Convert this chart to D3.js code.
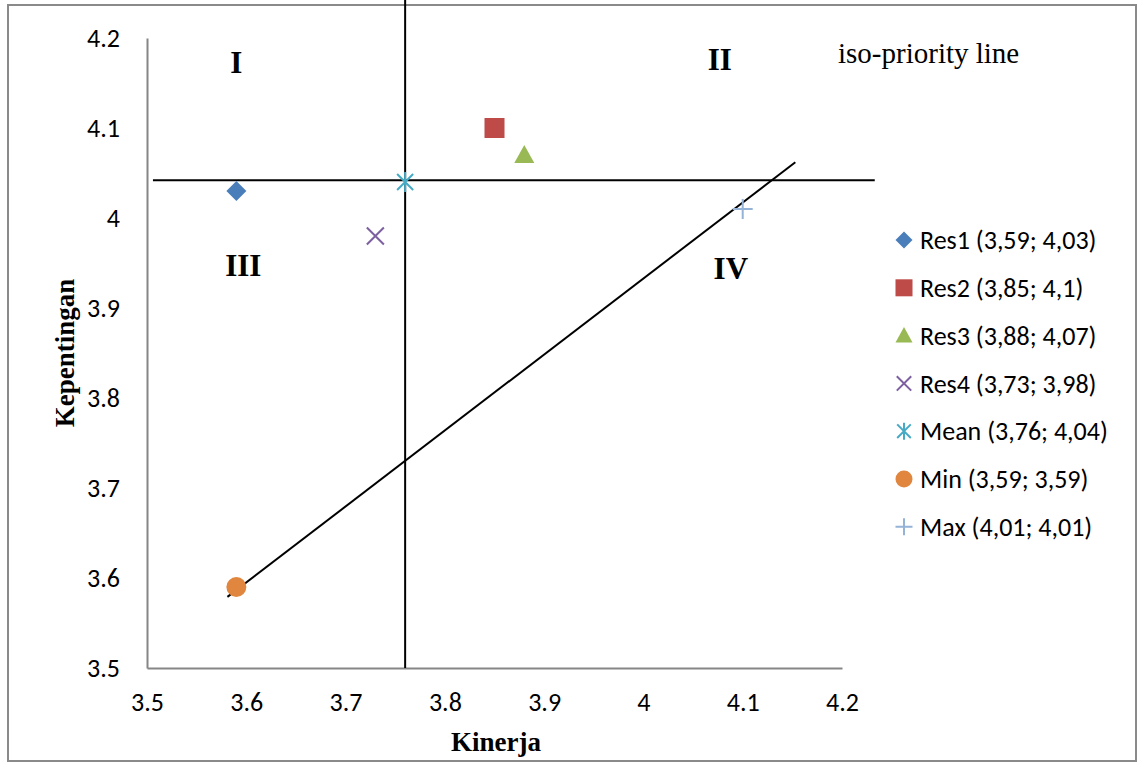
<!DOCTYPE html>
<html>
<head>
<meta charset="utf-8">
<script src="https://cdn.jsdelivr.net/npm/d3@7"></script>
<style>
  html, body { margin: 0; padding: 0; background: #fff; }
  svg { display: block; }
</style>
</head>
<body>
<svg id="chart" width="1138" height="763"></svg>
<script>
// data
const names = ["Res1", "Res2", "Res3", "Res4", "Mean", "Min", "Max"];
const kinerja = [3.59, 3.85, 3.88, 3.73, 3.76, 3.59, 4.1];
const kepentingan = [4.03, 4.1, 4.07, 3.98, 4.04, 3.59, 4.01];
const legendLabels = [
  "Res1 (3,59; 4,03)", "Res2 (3,85; 4,1)", "Res3 (3,88; 4,07)", "Res4 (3,73; 3,98)",
  "Mean (3,76; 4,04)", "Min (3,59; 3,59)", "Max (4,01; 4,01)"
];
const shapes = ["diamond", "square", "triangle", "x", "star", "circle", "plus"];
const colors = ["#4A7EBB", "#BE4B48", "#98B954", "#7D60A0", "#46AAC5", "#E0863E", "#95B3D7"];

const xTicks = [3.5, 3.6, 3.7, 3.8, 3.9, 4, 4.1, 4.2];
const yTicks = [3.5, 3.6, 3.7, 3.8, 3.9, 4, 4.1, 4.2];

// quadrant lines (data coords)
const hLine = [[3.506, 4.042], [4.233, 4.042]];
const vLine = [[3.76, 3.5], [3.76, 4.245]];
const isoLine = [[3.581, 3.579], [4.153, 4.062]];

const quadrants = [
  { label: "I", x: 3.59, y: 4.173 },
  { label: "II", x: 4.077, y: 4.176 },
  { label: "III", x: 3.597, y: 3.948 },
  { label: "IV", x: 4.088, y: 3.944 }
];

const svg = d3.select("svg#chart");

// outer frame
svg.append("rect")
  .attr("x", 8).attr("y", 5)
  .attr("width", 1128).attr("height", 756)
  .attr("fill", "none")
  .attr("stroke", "#8a8a8a")
  .attr("stroke-width", 2);

const x = d3.scaleLinear().domain([3.5, 4.2]).range([147, 842]);
const y = d3.scaleLinear().domain([3.5, 4.2]).range([668, 38]);

const tickFont = "Carlito, Lato, sans-serif";
const serif = "'Liberation Serif', 'Times New Roman', serif";

// axes (no tick marks, Excel style)
const xAxis = svg.append("g")
  .attr("transform", `translate(0,${y(3.5)})`)
  .call(d3.axisBottom(x).tickValues(xTicks).tickSize(0).tickPadding(25).tickFormat(d3.format("")));
const yAxis = svg.append("g")
  .attr("transform", `translate(${x(3.5)},0)`)
  .call(d3.axisLeft(y).tickValues(yTicks).tickSize(0).tickPadding(27).tickFormat(d3.format("")));

[xAxis, yAxis].forEach(a => {
  a.select(".domain").attr("stroke", "#868686").attr("stroke-width", 2);
  a.selectAll("text")
    .attr("font-family", tickFont)
    .attr("font-size", 26)
    .attr("fill", "#000");
});

// axis titles
svg.append("text")
  .attr("x", 496).attr("y", 751)
  .attr("text-anchor", "middle")
  .attr("font-family", serif).attr("font-weight", "bold").attr("font-size", 27)
  .text("Kinerja");

svg.append("text")
  .attr("transform", "translate(74,353) rotate(-90)")
  .attr("text-anchor", "middle")
  .attr("font-family", serif).attr("font-weight", "bold").attr("font-size", 27)
  .text("Kepentingan");

// black reference lines
const line = d3.line().x(d => x(d[0])).y(d => y(d[1]));
[hLine, vLine, isoLine].forEach(pts => {
  svg.append("path")
    .attr("d", line(pts))
    .attr("fill", "none")
    .attr("stroke", "#000")
    .attr("stroke-width", 2);
});

// quadrant labels
svg.selectAll("text.quad")
  .data(quadrants)
  .join("text")
  .attr("class", "quad")
  .attr("x", d => x(d.x))
  .attr("y", d => y(d.y))
  .attr("dy", "0.35em")
  .attr("text-anchor", "middle")
  .attr("font-family", serif).attr("font-weight", "bold").attr("font-size", 31)
  .text(d => d.label);

svg.append("text")
  .attr("x", x(4.196)).attr("y", y(4.183))
  .attr("dy", "0.35em")
  .attr("font-family", serif).attr("font-size", 29)
  .text("iso-priority line");

// marker drawing
function drawMarker(g, shape, color, s) {
  const h = s / 2;
  if (shape === "diamond") {
    g.append("path").attr("d", `M0,${-h}L${h},0L0,${h}L${-h},0Z`).attr("fill", color);
  } else if (shape === "square") {
    g.append("rect").attr("x", -h).attr("y", -h).attr("width", s).attr("height", s).attr("fill", color);
  } else if (shape === "triangle") {
    g.append("path").attr("d", `M0,${-h}L${h},${h * 0.8}L${-h},${h * 0.8}Z`).attr("fill", color);
  } else if (shape === "circle") {
    g.append("circle").attr("r", h).attr("fill", color);
  } else if (shape === "x") {
    const k = h * 0.85;
    g.append("path").attr("d", `M${-k},${-k}L${k},${k}M${-k},${k}L${k},${-k}`)
      .attr("stroke", color).attr("stroke-width", 2).attr("fill", "none");
  } else if (shape === "star") {
    const k = h * 0.8;
    g.append("path").attr("d", `M${-k},${-k}L${k},${k}M${-k},${k}L${k},${-k}M0,${-h}L0,${h}`)
      .attr("stroke", color).attr("stroke-width", 2).attr("fill", "none");
  } else if (shape === "plus") {
    g.append("path").attr("d", `M${-h},0L${h},0M0,${-h}L0,${h}`)
      .attr("stroke", color).attr("stroke-width", 2).attr("fill", "none");
  }
}

// points
names.forEach((n, i) => {
  const g = svg.append("g").attr("transform", `translate(${x(kinerja[i])},${y(kepentingan[i])})`);
  drawMarker(g, shapes[i], colors[i], 20);
});

// legend
const legend = svg.append("g").attr("transform", "translate(904,240)");
legendLabels.forEach((lab, i) => {
  const row = legend.append("g").attr("transform", `translate(0,${i * 47.8})`);
  drawMarker(row, shapes[i], colors[i], 17);
  row.append("text")
    .attr("x", 16).attr("dy", "0.35em")
    .attr("font-family", tickFont).attr("font-size", 26)
    .attr("fill", "#000")
    .text(lab);
});
</script>
</body>
</html>
